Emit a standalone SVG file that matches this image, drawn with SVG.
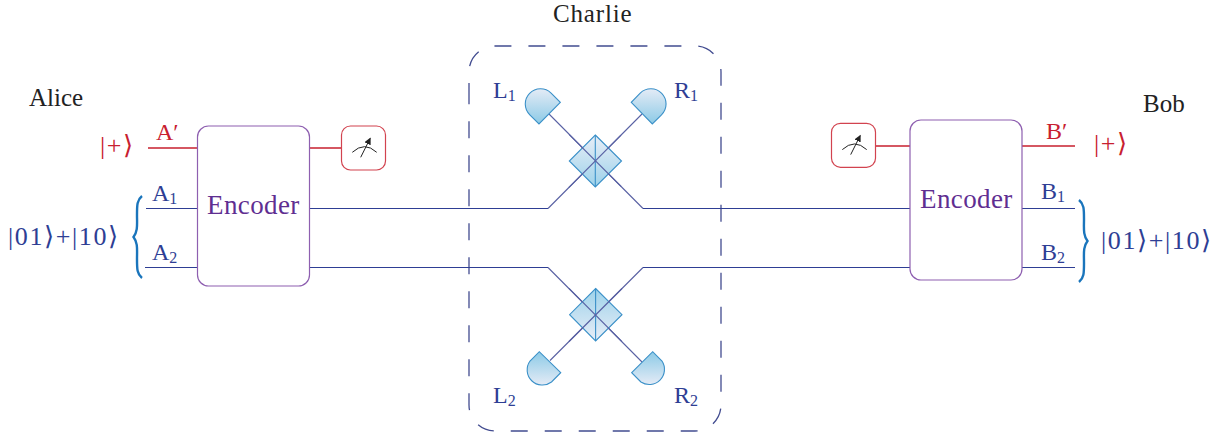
<svg xmlns="http://www.w3.org/2000/svg" width="1231" height="432" viewBox="0 0 1231 432">
<style>
text{font-family:"Liberation Serif","DejaVu Serif",serif;font-size:24px}
.k{fill:#222222;font-size:25px}.r{fill:#c8202f}.b{fill:#2e3e94}.p{fill:#5f2e91;font-size:27px;letter-spacing:.4px}
.ket{font-size:26px;letter-spacing:1.6px}
.s{font-size:16px}
.lr{stroke:#c8202f;stroke-width:1.5;fill:none}.lb{stroke:#2e3e94;stroke-width:1.1;fill:none}.lt{stroke:#5a62a4;stroke-width:1.1;fill:none}
.enc{fill:#fff;stroke:#8e5fb0;stroke-width:1.2}
.mb{fill:#fff;stroke:#d2434f;stroke-width:1.2}
.det{stroke:#3a90c8;stroke-width:1.1}
.bs{stroke:#3a90c8;stroke-width:1.1}
.br{fill:none;stroke:#1a75bc;stroke-width:2.4}
</style>
<defs>
<linearGradient id="gd" x1="0" y1="0" x2="0" y2="1"><stop offset="0" stop-color="#e4ebf6"/><stop offset="1" stop-color="#8ccae6"/></linearGradient>
<linearGradient id="gu" x1="0" y1="1" x2="0" y2="0"><stop offset="0" stop-color="#e4ebf6"/><stop offset="1" stop-color="#8ccae6"/></linearGradient>
<marker id="ah" markerWidth="8" markerHeight="8" refX="6" refY="3.5" orient="auto" markerUnits="userSpaceOnUse"><path d="M0 0L7 3.5L0 7z" fill="#222"/></marker>
<g id="meter-shape"><path d="M352.3 152.3Q364.5 141 376.7 152.3" fill="none" stroke="#222" stroke-width="1"/><path d="M360.7 157.3L370.2 138.3" fill="none" stroke="#222" stroke-width="1" marker-end="url(#ah)"/></g>
</defs>
<g id="charlie-box"><path d="M469 100V72A26 26 0 0 1 495 46H695A26 26 0 0 1 721 72V405A26 26 0 0 1 695 431H495A26 26 0 0 1 469 405V100" fill="none" stroke="#424c90" stroke-width="1.3" stroke-dasharray="17 17"/></g>
<g id="connectors">
<path class="lr" d="M148 148H197M310 148H341M875 146H910M1022 146H1075"/>
<path class="lb" d="M146 208.500H197M145 267.500H197M1022 208.500H1075M1022 267.500H1075M310 208.500H548M643 208.500H910M310 267.500H548M643 267.500H910"/>
<path class="lt" d="M548 208.500L642 114M643 208.500L549 114M548 267.500L642 362M643 267.500L550 360.500"/>
</g>
<g id="bs-top"><path class="bs" d="M595.300 135L621.500 161L595.300 187L569.300 161Z" fill="url(#gd)" fill-opacity=".85"/><path class="bs" d="M595.300 135V187"/><path class="lt" d="M569 187.400L621 135.100M569 134.300L621 186.300"/></g>
<g id="bs-bottom"><path class="bs" d="M595.600 288.500L622 314.700L595.600 341L569.600 314.700Z" fill="url(#gu)" fill-opacity=".85"/><path class="bs" d="M595.600 288.500V341"/><path class="lt" d="M569 288.400L622 341.700M622 288.500L569 341.500"/></g>
<g id="det-L1"><path class="det" fill="url(#gd)" d="M560.300 102.300L539 124L529.800 114.800A15.200 15.200 0 0 1 551.100 93.100Z"/></g>
<g id="det-R1"><path class="det" fill="url(#gd)" d="M631.300 102.300L652.300 124L661.500 114.800A15.200 15.200 0 0 0 640.200 93.100Z"/></g>
<g id="det-L2"><path class="det" fill="url(#gu)" d="M560.700 372.700L539.300 351.700L530 361A15.200 15.200 0 0 0 551.500 382Z"/></g>
<g id="det-R2"><path class="det" fill="url(#gu)" d="M631.700 372.700L652.700 351.700L662 361A15.200 15.200 0 0 1 640.900 382Z"/></g>
<g id="enc-left"><rect class="enc" x="197.500" y="126" width="112" height="160" rx="11"/><text class="p" x="207" y="214">Encoder</text></g>
<g id="enc-right"><rect class="enc" x="910" y="120" width="112" height="160" rx="11"/><text class="p" x="920" y="208">Encoder</text></g>
<g id="meter-left"><rect class="mb" x="341.500" y="126" width="44" height="44" rx="9"/><use href="#meter-shape"/></g>
<g id="meter-right"><rect class="mb" x="831.500" y="123.300" width="44" height="44" rx="9"/><use href="#meter-shape" x="490" y="-2.700"/></g>
<g id="brace-left"><path class="br" d="M142 196C137 200 137 205 137 215C137 225 138 231 133.500 237C138 243 137 249 137 259C137 269 137 274 142 278"/></g>
<g id="brace-right"><path class="br" d="M1079 200C1084 204 1084 209 1084 219C1084 229 1083 235 1087.500 241C1083 247 1084 253 1084 263C1084 273 1084 278 1079 282"/></g>
<g id="labels">
<text class="k" x="553" y="22" style="letter-spacing:.85px">Charlie</text>
<text class="k" x="29" y="106">Alice</text>
<text class="k" x="1143" y="112">Bob</text>
<text class="r ket" x="100" y="154">|+⟩</text>
<text class="r ket" x="1094" y="152">|+⟩</text>
<text class="r" x="156" y="140">A′</text>
<text class="r" x="1046" y="139">B′</text>
<text class="b" x="152" y="201">A<tspan class="s" dy="3">1</tspan></text>
<text class="b" x="152" y="260">A<tspan class="s" dy="3">2</tspan></text>
<text class="b" x="1041" y="199">B<tspan class="s" dy="3">1</tspan></text>
<text class="b" x="1041" y="260">B<tspan class="s" dy="3">2</tspan></text>
<text class="b ket" x="8" y="245">|01⟩+|10⟩</text>
<text class="b ket" x="1101" y="249">|01⟩+|10⟩</text>
<text class="b" x="493" y="98">L<tspan class="s" dy="3">1</tspan></text>
<text class="b" x="674" y="98">R<tspan class="s" dy="3">1</tspan></text>
<text class="b" x="493" y="403">L<tspan class="s" dy="3">2</tspan></text>
<text class="b" x="674" y="403">R<tspan class="s" dy="3">2</tspan></text>
</g>
</svg>
